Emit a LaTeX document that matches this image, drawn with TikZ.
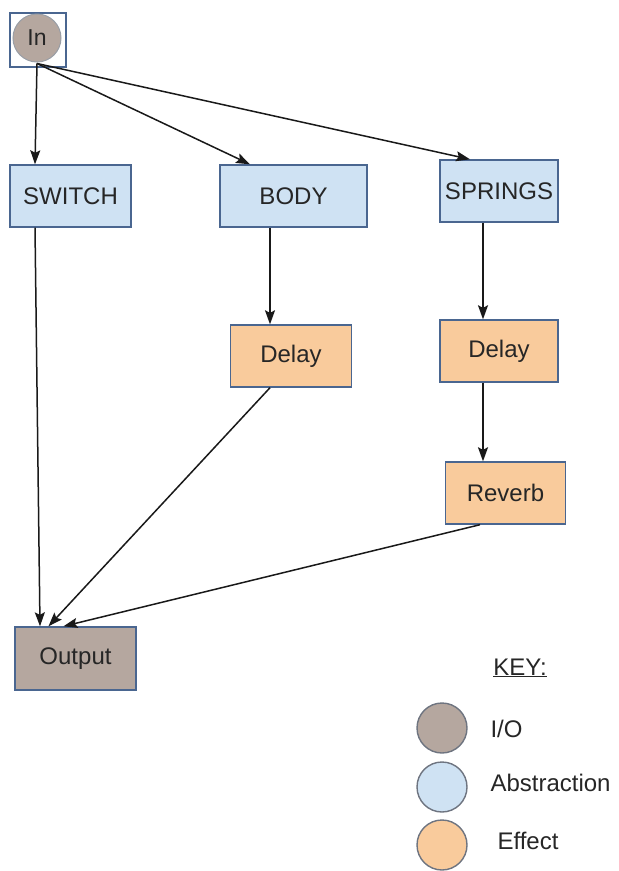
\documentclass[tikz,border=0pt]{standalone}
\usepackage{fontspec}
\setmainfont{Liberation Sans}
\usetikzlibrary{arrows.meta}
\definecolor{absfill}{HTML}{CFE2F3}
\definecolor{efffill}{HTML}{F9CB9C}
\definecolor{iofill}{HTML}{B5A79F}
\definecolor{boxline}{HTML}{4A6690}
\definecolor{keyline}{HTML}{6E7480}
\tikzset{
  blk/.style={draw=boxline, line width=1.4pt, minimum height=62pt, inner sep=0pt, font=\fontsize{24}{26}\selectfont, text=black!85},
  absbox/.style={blk, fill=absfill},
  effbox/.style={blk, fill=efffill},
  iobox/.style={blk, fill=iofill},
  keycirc/.style={circle, draw=keyline, line width=1.4pt, minimum size=50pt, inner sep=0pt},
  keytext/.style={anchor=west, font=\fontsize{24}{26}\selectfont, text=black!85},
  arr/.style={draw=black!90, line width=1.5pt, -{Stealth[length=14pt,width=10pt,inset=2.5pt]}},
}
\begin{document}
\begin{tikzpicture}[x=1pt,y=-1pt]
\useasboundingbox (0,0) rectangle (619,871);
% input
\node[draw=boxline, line width=1.2pt, minimum width=56pt, minimum height=54pt, inner sep=0pt] (insq) at (38,40) {};
\node[circle, fill=iofill, draw=keyline!70, line width=1pt, minimum size=48pt, inner sep=0pt, font=\fontsize{23}{25}\selectfont, text=black!85] (in) at (37,38) {In};
% abstraction
\node[absbox, minimum width=121pt] (switch) at (70.5,196) {SWITCH};
\node[absbox, minimum width=147pt] (body) at (293.5,196) {BODY};
\node[absbox, minimum width=118pt] (springs) at (499,191) {SPRINGS};
% effects
\node[effbox, minimum width=121pt] (delayA) at (291,356) {Delay};
\node[effbox, minimum width=118pt] (delayB) at (499,351) {Delay};
\node[effbox, minimum width=120pt] (reverb) at (505.5,493) {Reverb};
% output
\node[iobox, minimum width=121pt, minimum height=63pt] (output) at (75.5,658.5) {Output};
% edges
\draw[arr] ([yshift=-1pt]in.south) -- ([xshift=-35.5pt]switch.north);
\draw[arr] ([yshift=-1pt]in.south) -- ([xshift=-43.5pt]body.north);
\draw[arr] ([yshift=-1pt]in.south) -- ([xshift=-29pt]springs.north);
\draw[arr] ([xshift=-23.5pt]body.south) -- ([xshift=-21pt]delayA.north);
\draw[arr] ([xshift=-16pt]springs.south) -- ([xshift=-16pt]delayB.north);
\draw[arr] ([xshift=-16pt]delayB.south) -- ([xshift=-22.5pt]reverb.north);
\draw[arr] ([xshift=-35.5pt]switch.south) -- ([xshift=-35.5pt]output.north);
\draw[arr] ([xshift=-21pt]delayA.south) -- ([xshift=-27pt]output.north);
\draw[arr] ([xshift=-25.5pt]reverb.south) -- ([xshift=-12pt]output.north);
% key
\node[font=\fontsize{24}{26}\selectfont, text=black!85] (keyt) at (520,668) {\underline{KEY:}};
\node[keycirc, fill=iofill] (kio) at (442,728) {};
\node[keycirc, fill=absfill] (kabs) at (442,787) {};
\node[keycirc, fill=efffill] (keff) at (442,845) {};
\node[keytext] (tio) at (487,729) {I/O};
\node[keytext] (tabs) at (487,783) {Abstraction};
\node[keytext] (teff) at (494,841) {Effect};
\end{tikzpicture}
\end{document}
